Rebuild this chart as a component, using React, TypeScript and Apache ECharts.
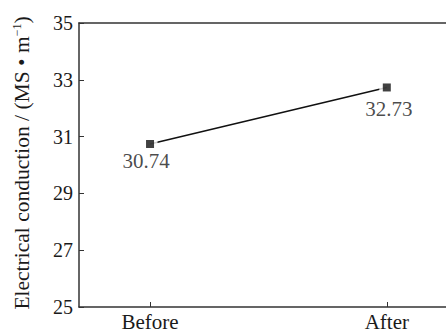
import React, { useEffect, useRef } from "react";
import * as echarts from "echarts";

const categories = ["Before", "After"];
const values = [30.74, 32.73];
const yTicks = [25, 27, 29, 31, 33, 35];

const FONT = "Liberation Serif";
const AXIS_COLOR = "#333";
const TEXT_COLOR = "#1a1a1a";

export default function App() {
  const ref = useRef<HTMLDivElement>(null);
  useEffect(() => {
    if (!ref.current) return;
    const chart = echarts.init(ref.current, undefined, { renderer: "svg" });
    const points = values.map((v, i) => [i, v]);
    const labelOffsets = [[-4, 0], [2, 4]];
    chart.setOption({
      animation: false,
      backgroundColor: "#fff",
      textStyle: { fontFamily: FONT },
      grid: { left: 79, right: 0, top: 23, bottom: 24 },
      xAxis: [
        {
          type: "value",
          min: -0.3,
          max: 1.25,
          splitLine: { show: false },
          axisLine: { show: true, onZero: false, lineStyle: { color: AXIS_COLOR, width: 1.5 } },
          axisTick: {
            show: true,
            inside: true,
            length: 5,
            customValues: [0, 1],
            lineStyle: { color: AXIS_COLOR, width: 1 },
          },
          axisLabel: {
            customValues: [0, 1],
            formatter: (v: number) => categories[Math.round(v)] ?? "",
            fontFamily: FONT,
            fontSize: 21,
            color: TEXT_COLOR,
            margin: 4,
          },
        },
        {
          type: "value",
          position: "top",
          min: -0.3,
          max: 1.25,
          splitLine: { show: false },
          axisLine: { show: true, onZero: false, lineStyle: { color: AXIS_COLOR, width: 1.5 } },
          axisTick: { show: false },
          axisLabel: { show: false },
        },
      ],
      yAxis: {
        type: "value",
        min: yTicks[0],
        max: yTicks[yTicks.length - 1],
        interval: 2,
        splitLine: { show: false },
        axisLine: { show: true, onZero: false, lineStyle: { color: AXIS_COLOR, width: 1.5 } },
        axisTick: { show: true, inside: true, length: 5, lineStyle: { color: AXIS_COLOR, width: 1 } },
        axisLabel: { fontFamily: FONT, fontSize: 20, color: TEXT_COLOR, margin: 6 },
        name: "Electrical conduction / (MS • m{sup|−1})",
        nameLocation: "middle",
        nameGap: 46,
        nameRotate: 90,
        nameTextStyle: {
          fontFamily: FONT,
          fontSize: 21.5,
          color: TEXT_COLOR,
          padding: [0, 0, 0, 4],
          rich: {
            sup: { fontFamily: FONT, fontSize: 12, color: TEXT_COLOR, verticalAlign: "top", padding: [0, 0, 8, 0] },
          },
        },
      },
      series: [
        {
          type: "line",
          data: points,
          symbol: "none",
          lineStyle: { color: "#111", width: 1.5 },
          z: 2,
          silent: true,
        },
        {
          type: "scatter",
          data: points,
          symbol: "rect",
          symbolSize: 15,
          itemStyle: { color: "#fff" },
          z: 3,
          silent: true,
        },
        {
          type: "scatter",
          data: points.map((p, i) => ({
            value: p,
            label: { offset: labelOffsets[i] },
          })),
          symbol: "rect",
          symbolSize: 8,
          itemStyle: { color: "#111" },
          z: 4,
          label: {
            show: true,
            position: "bottom",
            distance: 3,
            formatter: (p: any) => p.value[1].toFixed(2),
            fontFamily: FONT,
            fontSize: 21,
            color: TEXT_COLOR,
          },
        },
      ],
    });
    return () => chart.dispose();
  }, []);
  return (
    <div
      ref={ref}
      style={{ position: "absolute", left: 0, top: 0, width: 446, height: 332 }}
    />
  );
}
